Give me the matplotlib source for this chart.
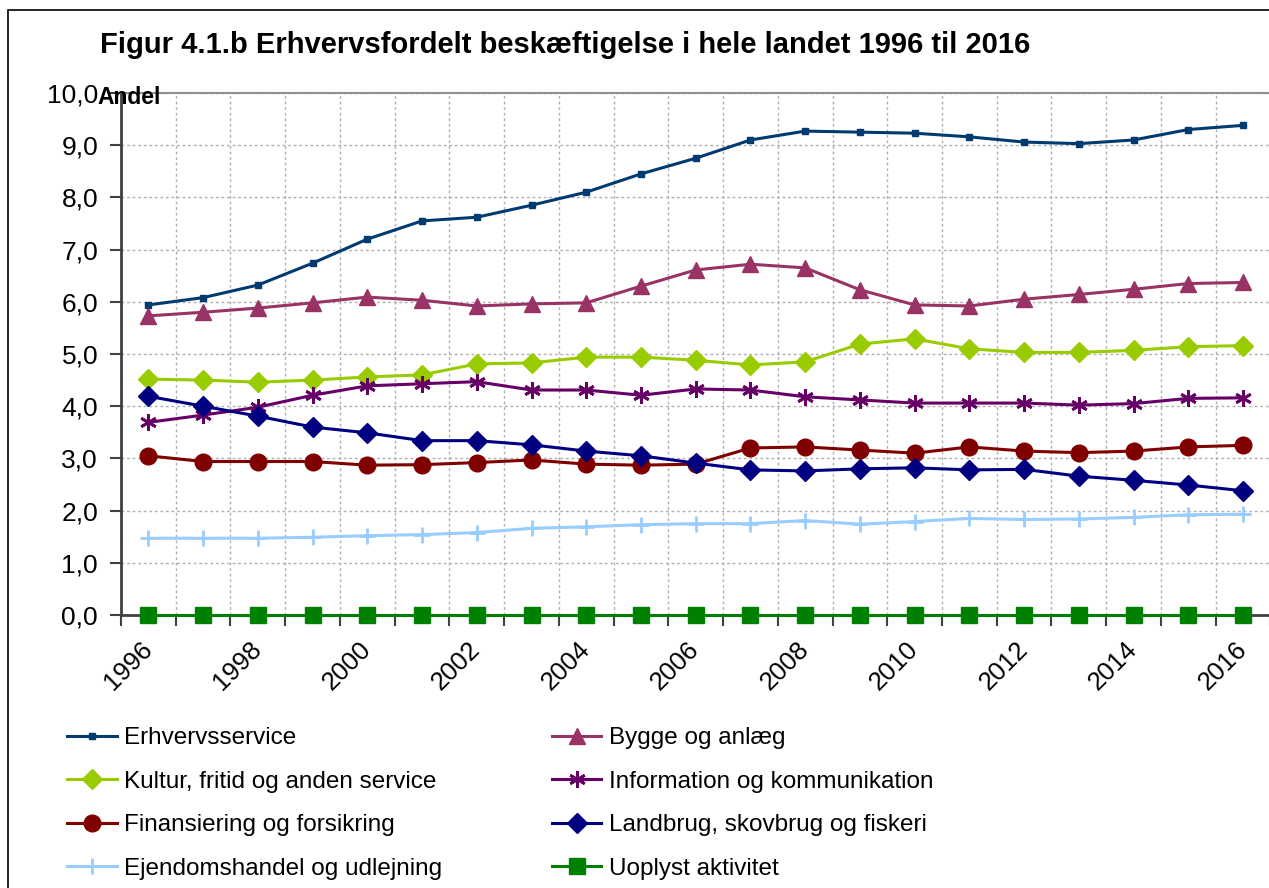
import matplotlib
matplotlib.use('Agg')
import matplotlib.pyplot as plt
from matplotlib.patches import Rectangle
from matplotlib.ticker import FuncFormatter
import numpy as np

years = list(range(1996, 2017))

erhvervsservice = [5.94, 6.08, 6.32, 6.74, 7.20, 7.55, 7.62, 7.85, 8.10, 8.45, 8.75,
                   9.10, 9.27, 9.25, 9.23, 9.16, 9.06, 9.03, 9.10, 9.30, 9.38]
bygge = [5.73, 5.80, 5.88, 5.98, 6.09, 6.03, 5.92, 5.96, 5.98, 6.30, 6.61,
         6.72, 6.65, 6.23, 5.94, 5.92, 6.05, 6.14, 6.24, 6.35, 6.37]
kultur = [4.52, 4.50, 4.46, 4.50, 4.56, 4.60, 4.81, 4.83, 4.94, 4.94, 4.88,
          4.79, 4.85, 5.19, 5.29, 5.10, 5.03, 5.03, 5.07, 5.14, 5.16]
information = [3.69, 3.83, 3.98, 4.21, 4.39, 4.43, 4.47, 4.31, 4.31, 4.21, 4.33,
               4.31, 4.18, 4.12, 4.06, 4.06, 4.06, 4.02, 4.05, 4.15, 4.16]
finansiering = [3.05, 2.94, 2.94, 2.94, 2.87, 2.88, 2.92, 2.97, 2.89, 2.87, 2.89,
                3.20, 3.22, 3.16, 3.10, 3.22, 3.14, 3.11, 3.14, 3.22, 3.25]
landbrug = [4.19, 4.00, 3.81, 3.60, 3.49, 3.34, 3.34, 3.26, 3.14, 3.05, 2.91,
            2.78, 2.76, 2.80, 2.82, 2.78, 2.79, 2.66, 2.58, 2.49, 2.38]
ejendom = [1.47, 1.47, 1.47, 1.49, 1.52, 1.54, 1.58, 1.66, 1.69, 1.73, 1.75,
           1.75, 1.81, 1.74, 1.79, 1.85, 1.83, 1.84, 1.87, 1.92, 1.93]
uoplyst = [0.0] * 21

plt.rcParams['font.family'] = ['Liberation Sans', 'DejaVu Sans']

W, H = 1269, 888
fig = plt.figure(figsize=(W / 100, H / 100), dpi=100)

# outer frame (only left and top edges show in the picture)
fig.patches.append(Rectangle((8 / W, -1), 2, 2 - 10 / H, transform=fig.transFigure,
                             fill=False, ec='black', lw=1.2, clip_on=False))

ax = fig.add_axes([121 / W, 1 - 615 / H, (1270.4 - 121) / W, (615 - 93) / H])

series = [
    ('Erhvervsservice', erhvervsservice, '#003B6F', dict(marker='s', ms=4.5)),
    ('Kultur, fritid og anden service', kultur, '#99CC00', dict(marker='D', ms=10)),
    ('Finansiering og forsikring', finansiering, '#800000', dict(marker='o', ms=12)),
    ('Ejendomshandel og udlejning', ejendom, '#99CCFF', dict(marker='+', ms=12, mew=2)),
    ('Bygge og anlæg', bygge, '#993366', dict(marker='^', ms=11)),
    ('Information og kommunikation', information, '#660066', dict(marker=(6, 2, 0), ms=12, mew=2)),
    ('Landbrug, skovbrug og fiskeri', landbrug, '#000080', dict(marker='D', ms=10)),
    ('Uoplyst aktivitet', uoplyst, '#008000', dict(marker='s', ms=11)),
]

for label, vals, color, mk in series:
    ax.plot(years, vals, color=color, lw=2.2, label=label, clip_on=False,
            zorder=3, **mk)

ax.set_ylim(0, 10)
ax.set_xlim(1995.5, 2016.5)
ax.set_yticks(np.arange(0, 11, 1))
ax.yaxis.set_major_formatter(FuncFormatter(lambda v, p: f'{v:.1f}'.replace('.', ',')))
ax.tick_params(axis='y', labelsize=19, length=8, width=1.5, color='#404040', pad=8.5)

bounds = np.arange(1995.5, 2017, 1)
ax.set_xticks(bounds)
ax.set_xticklabels([''] * len(bounds))
ax.tick_params(axis='x', which='major', length=8, width=1.5, color='#404040')
ax.set_xticks(years[::2], minor=True)
ax.set_xticklabels([str(y) for y in years[::2]], minor=True, rotation=45,
                   ha='right', va='center', rotation_mode='anchor', fontsize=18.5)
ax.tick_params(axis='x', which='minor', length=0, pad=22)

ax.grid(True, which='major', color='#B0B0B0', lw=1, linestyle=(0, (2, 2)))
ax.set_axisbelow(True)

ax.spines['right'].set_visible(False)
ax.spines['top'].set_color('#909090')
ax.spines['top'].set_linewidth(1.5)
ax.spines['left'].set_color('#404040')
ax.spines['left'].set_linewidth(2)
ax.spines['bottom'].set_color('#404040')
ax.spines['bottom'].set_linewidth(2)

fig.text(100 / W, 1 - 45 / H, 'Figur 4.1.b Erhvervsfordelt beskæftigelse i hele landet 1996 til 2016',
         fontsize=21, fontweight='bold', ha='left', va='center')
fig.text(97 / W, 1 - 97 / H, 'Andel', fontsize=16.5, fontweight='bold', ha='left', va='center')

ax.legend(loc='upper left', bbox_to_anchor=(67 / W, 1 - 727 / H),
          bbox_transform=fig.transFigure, ncol=2, frameon=False, fontsize=17.5,
          borderpad=0, borderaxespad=0, handlelength=2.05, handletextpad=0.3,
          columnspacing=4.5, labelspacing=0.89)

fig.savefig('out.png', dpi=100)
